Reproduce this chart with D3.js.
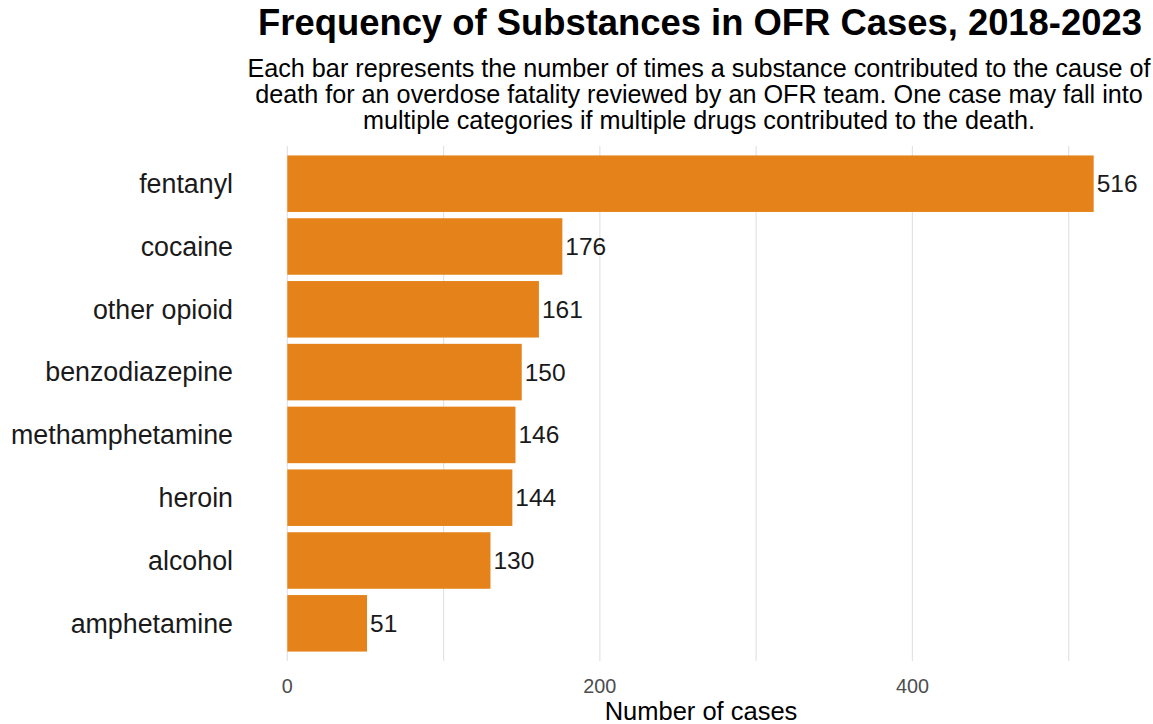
<!DOCTYPE html>
<html>
<head>
<meta charset="utf-8">
<script src="https://cdn.jsdelivr.net/npm/d3@7"></script>
<style>
  body { margin: 0; background: #fff; }
  svg text { font-family: "Liberation Sans", Arial, sans-serif; }
</style>
</head>
<body>
<div id="chart"></div>
<script>
const substances = ["fentanyl", "cocaine", "other opioid", "benzodiazepine", "methamphetamine", "heroin", "alcohol", "amphetamine"];
const counts = [516, 176, 161, 150, 146, 144, 130, 51];
const xTicks = [0, 200, 400];
const xGrid = [0, 100, 200, 300, 400, 500];
const subtitleLines = [
  "Each bar represents the number of times a substance contributed to the cause of",
  "death for an overdose fatality reviewed by an OFR team. One case may fall into",
  "multiple categories if multiple drugs contributed to the death."
];

const width = 1153, height = 724;
const svg = d3.select("#chart").append("svg")
  .attr("width", width)
  .attr("height", height);

// panel area
const panel = { left: 247, right: 1134, top: 146, bottom: 661 };

const x = d3.scaleLinear()
  .domain([-25.8, 541.8])
  .range([panel.left, panel.right]);

const y = d3.scaleBand()
  .domain(substances)
  .range([panel.top, panel.bottom])
  .paddingInner(0.1)
  .paddingOuter(0.15);

// gridlines
svg.append("g")
  .selectAll("line")
  .data(xGrid)
  .join("line")
  .attr("x1", d => x(d)).attr("x2", d => x(d))
  .attr("y1", panel.top).attr("y2", panel.bottom)
  .attr("stroke", "#e3e3e3")
  .attr("stroke-width", 1.2);

// bars
svg.append("g")
  .selectAll("rect")
  .data(substances)
  .join("rect")
  .attr("x", x(0))
  .attr("y", d => y(d))
  .attr("width", (d, i) => x(counts[i]) - x(0))
  .attr("height", y.bandwidth())
  .attr("fill", "#E5831A");

// value labels
svg.append("g")
  .selectAll("text")
  .data(substances)
  .join("text")
  .attr("x", (d, i) => x(counts[i]) + 3)
  .attr("y", d => y(d) + y.bandwidth() / 2)
  .attr("dy", "0.35em")
  .attr("font-size", 24.5)
  .attr("fill", "#1a1a1a")
  .text((d, i) => counts[i]);

// y labels
svg.append("g")
  .selectAll("text")
  .data(substances)
  .join("text")
  .attr("x", 233)
  .attr("y", d => y(d) + y.bandwidth() / 2)
  .attr("dy", "0.35em")
  .attr("text-anchor", "end")
  .attr("font-size", 26.8)
  .attr("fill", "#1a1a1a")
  .text(d => d);

// x tick labels
svg.append("g")
  .selectAll("text")
  .data(xTicks)
  .join("text")
  .attr("x", d => x(d))
  .attr("y", 693)
  .attr("text-anchor", "middle")
  .attr("font-size", 19.8)
  .attr("fill", "#4d4d4d")
  .text(d => d);

// x axis title
svg.append("text")
  .attr("x", 701)
  .attr("y", 720)
  .attr("text-anchor", "middle")
  .attr("font-size", 25.5)
  .attr("fill", "#000")
  .text("Number of cases");

// title
svg.append("text")
  .attr("x", 700)
  .attr("y", 35)
  .attr("text-anchor", "middle")
  .attr("font-size", 36.4)
  .attr("font-weight", "bold")
  .attr("fill", "#000")
  .text("Frequency of Substances in OFR Cases, 2018-2023");

// subtitle
svg.append("g")
  .selectAll("text")
  .data(subtitleLines)
  .join("text")
  .attr("x", 699)
  .attr("y", (d, i) => 77 + i * 26)
  .attr("text-anchor", "middle")
  .attr("font-size", 25.2)
  .attr("fill", "#000")
  .text(d => d);
</script>
</body>
</html>
